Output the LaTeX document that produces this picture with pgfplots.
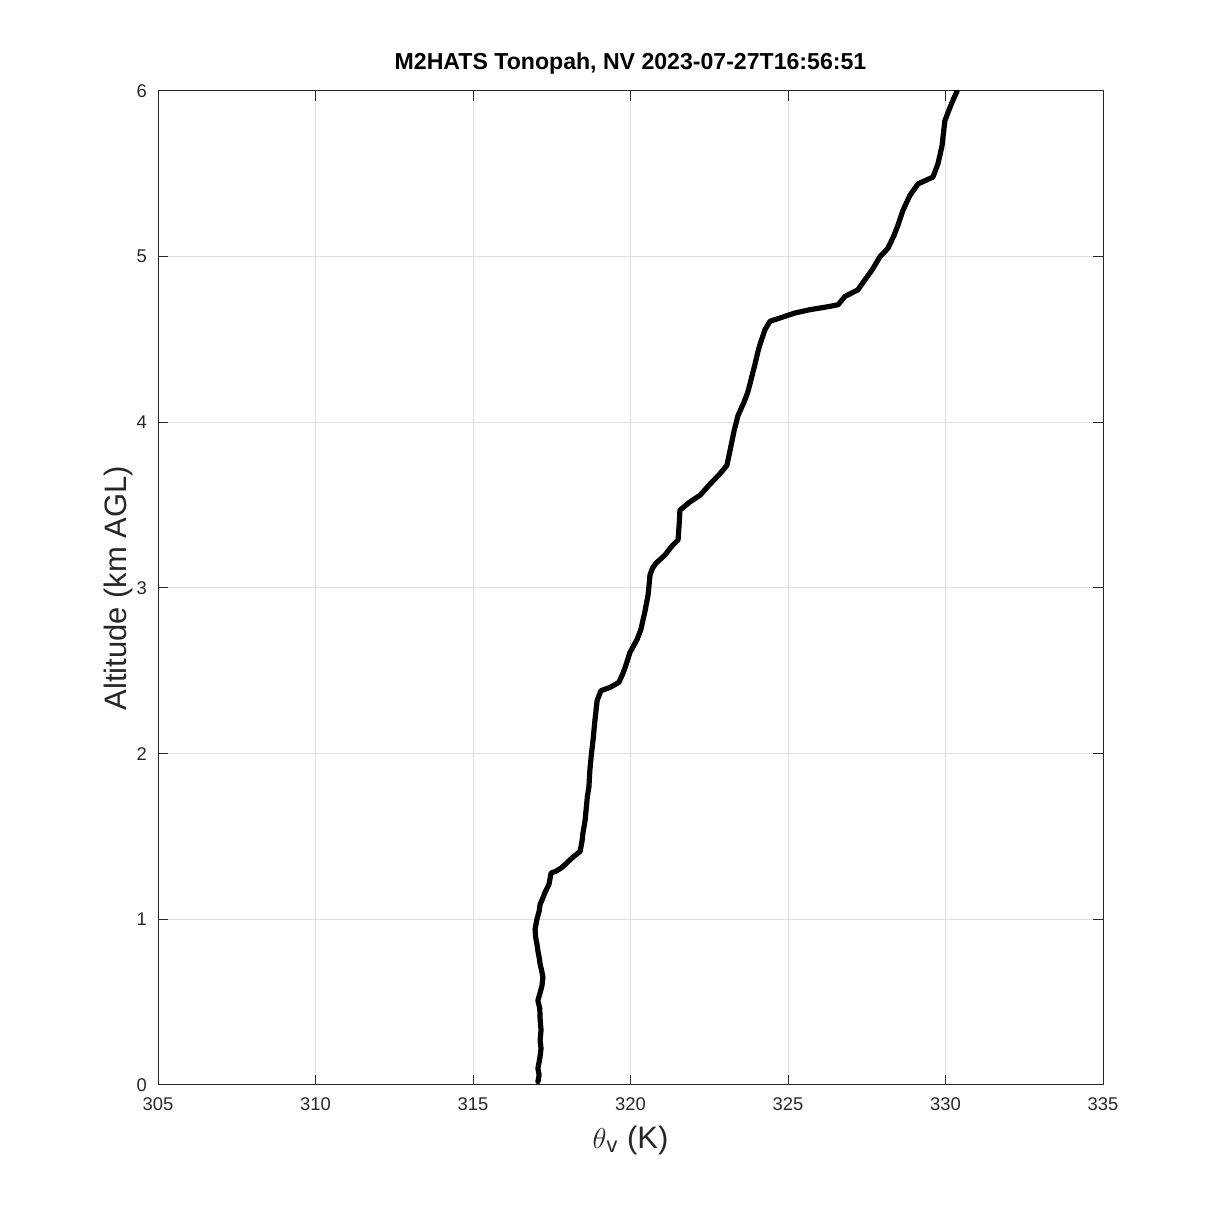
\documentclass[border=0pt]{standalone}
\usepackage{pgfplots}
\pgfplotsset{compat=1.18}
\usepackage{fontspec}
\setmainfont{Liberation Sans}
\definecolor{axgray}{RGB}{38,38,38}
\definecolor{gridgray}{RGB}{223,223,223}
\begin{document}
\begin{tikzpicture}
\path[use as bounding box] (-79pt,-67pt) rectangle (530.5pt,542.5pt);
\begin{axis}[
  at={(0,0)}, anchor=south west,
  scale only axis, width=472.5pt, height=497pt,
  xmin=305, xmax=335, ymin=0, ymax=6,
  xtick={305,310,...,335}, ytick={0,1,...,6},
  axis line style={axgray, line width=0.5pt},
  tick style={axgray, line width=0.5pt},
  major tick length=5pt,
  tick align=inside,
  xtick pos=both, ytick pos=both,
  grid=major,
  major grid style={gridgray, line width=0.5pt},
  /pgf/number format/assume math mode=true,
  /pgf/number format/1000 sep={},
  tick label style={font=\fontsize{9.2}{11}\selectfont, text=axgray},
  xticklabel style={yshift=-3pt},
  yticklabel style={xshift=-2pt},
  title={\textbf{M2HATS Tonopah, NV 2023-07-27T16:56:51}},
  title style={at={(axis description cs:0.5,1)}, anchor=base, yshift=4.5pt, font=\fontsize{11.55}{13}\selectfont},
  xlabel={$\theta$\textsubscript{v} (K)},
  xlabel style={at={([yshift=-27.5pt]axis description cs:0.5,0)}, anchor=center, font=\fontsize{15.5}{18}\selectfont, text=axgray},
  ylabel={Altitude (km AGL)},
  ylabel style={at={([xshift=-20pt]axis description cs:0,0.5)}, anchor=center, rotate=0, font=\fontsize{15.5}{18}\selectfont, text=axgray},
]
\addplot[black, line width=2.6pt, line join=round, line cap=round] coordinates {
(317.06,0.02) (317.10,0.06) (317.06,0.10) (317.12,0.16) (317.16,0.22) (317.13,0.27)
(317.16,0.33) (317.13,0.40) (317.12,0.46) (317.06,0.51) (317.12,0.55) (317.19,0.60)
(317.22,0.65) (317.18,0.69) (317.13,0.73) (317.10,0.77) (317.06,0.81) (317.03,0.85)
(316.99,0.89) (316.97,0.94) (317.03,1.00) (317.10,1.05) (317.13,1.09) (317.22,1.13)
(317.28,1.16) (317.41,1.21) (317.45,1.25) (317.48,1.28) (317.63,1.29) (317.80,1.31)
(317.92,1.33) (318.14,1.37) (318.40,1.41) (318.46,1.47) (318.49,1.52) (318.56,1.60)
(318.59,1.66) (318.63,1.74) (318.68,1.80) (318.71,1.90) (318.76,2.00) (318.81,2.08)
(318.87,2.20) (318.94,2.32) (319.06,2.38) (319.35,2.40) (319.63,2.43) (319.75,2.48)
(319.83,2.52) (319.98,2.61) (320.21,2.69) (320.33,2.75) (320.46,2.86) (320.56,2.96)
(320.62,3.08) (320.70,3.12) (320.81,3.15) (321.10,3.20) (321.30,3.25) (321.51,3.29)
(321.55,3.40) (321.57,3.47) (321.89,3.52) (322.21,3.56) (322.49,3.62) (322.84,3.69)
(323.06,3.74) (323.16,3.83) (323.29,3.95) (323.41,4.04) (323.60,4.12) (323.72,4.18)
(323.79,4.23) (323.95,4.35) (324.05,4.43) (324.11,4.47) (324.27,4.56) (324.43,4.61)
(324.75,4.63) (325.22,4.66) (325.70,4.68) (326.33,4.70) (326.59,4.71) (326.81,4.76)
(327.22,4.80) (327.44,4.86) (327.67,4.92) (327.92,5.00) (328.17,5.05) (328.37,5.13)
(328.49,5.19) (328.65,5.28) (328.87,5.37) (329.13,5.44) (329.60,5.48) (329.76,5.56)
(329.89,5.67) (329.98,5.82) (330.14,5.90) (330.25,5.95) (330.37,6.00)
};
\end{axis}
\end{tikzpicture}
\end{document}
